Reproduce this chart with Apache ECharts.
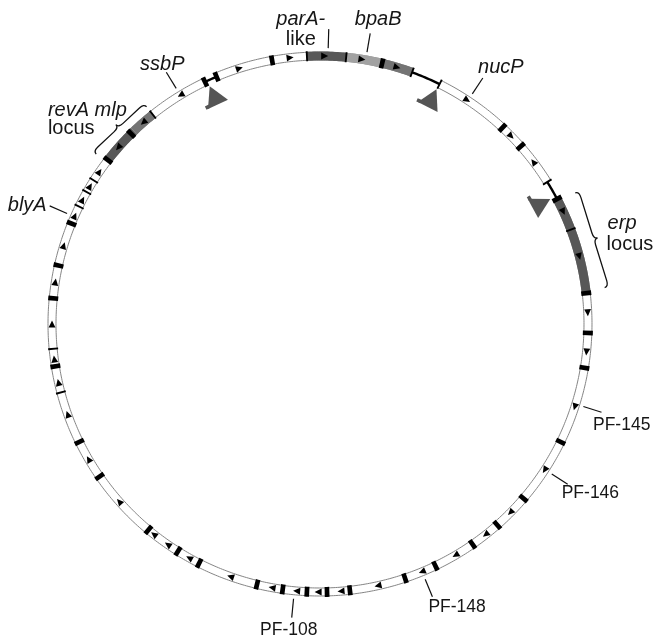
<!DOCTYPE html>
<html>
<head>
<meta charset="utf-8">
<script src="https://cdn.jsdelivr.net/npm/echarts@6/dist/echarts.min.js"></script>
<style>
html,body{margin:0;padding:0;background:#ffffff;}
#c{width:654px;height:642px;}
</style>
</head>
<body>
<div id="c"></div>
<script>
// ---- DATA (map positions in degrees, clockwise from the top of the plasmid) ----
const gapStart = [334.6, 20.1, 58.0];
const gapEnd   = [337.3, 26.5, 62.2];

const regionName  = ['parA-like', 'bpaB', 'bpaB flank', 'erp', 'revA', 'mlp'];
const regionStart = [357.2, 365.6, 372.9, 62.2, 307.7, 316.0];
const regionEnd   = [365.6, 372.9, 380.1, 83.4, 316.0, 321.4];
const regionTone  = ['dark', 'light', 'mid', 'dark', 'dark', 'mid'];

const boxAngles = [349.7, 13.4, 42.9, 48.5, 62.2, 83.4, 91.9, 99.4, 116.1, 130.6, 138.6, 145.3,
  154.5, 161.5, 173.6, 178.5, 182.8, 188.0, 193.6, 206.8, 212.0, 219.8, 235.3, 243.9, 260.9,
  275.5, 282.6, 292.0, 307.7, 315.2, 334.6, 337.3];
const tickAngles = [357.2, 5.6, 20.1, 26.5, 58.0, 69.4, 255.2, 264.7, 296.0, 299.5, 302.4, 321.4];

const arrowCW = [342.5, 353.6, 1.0, 9.0, 16.7, 33.3, 45.5, 65.2, 75.4, 87.6, 96.0, 108.0, 123.0,
  134.7, 141.8, 149.6, 157.6, 167.5, 175.5, 180.4, 185.0, 190.3, 199.5, 209.2, 214.6, 218.3,
  228.5, 239.7, 250.3, 257.4, 262.5, 270.0, 279.0, 287.0, 293.8, 297.6, 300.9, 304.6];
const arrowCCW = [52.8, 311.2, 318.8, 328.7];

const siteAngles = [335.1, 26.4, 61.5];

const labelText  = ['parA-\nlike', 'bpaB', 'nucP', 'PF-145', 'PF-146', 'PF-148', 'PF-108', 'blyA', 'ssbP'];
const labelAngle = [1.7, 9.8, 33.5, 107.4, 122.9, 157.6, 185.5, 293.6, 328.6];

const braceText = [['revA mlp', 'locus'], ['erp', 'locus']];
const braceFrom = [307.2, 62.8];
const braceTo   = [321.4, 82.7];

// ---- STYLE / LAYOUT ----
const R_OUT = 272, R_IN = 264, R_MID = 268;
const toneColor = { dark: '#585858', light: '#a2a2a2', mid: '#747474' };
const TEXT = '#161616';
const FONT = '"Liberation Sans", Arial, Helvetica, sans-serif';
const labelStyle = [
  { dx: -28, dy: 0, align: 'center', italic: [true, false], size: 20, lh: 20 },
  { dx: 8, dy: -14, align: 'center', italic: [true], size: 20 },
  { dx: 18, dy: -11, align: 'center', italic: [true], size: 20 },
  { dx: -8.5, dy: 13, align: 'left', italic: [false], size: 17.5 },
  { dx: -6, dy: 9, align: 'left', italic: [false], size: 17.5 },
  { dx: -4, dy: 10, align: 'left', italic: [false], size: 17.5 },
  { dx: -3, dy: 13, align: 'center', italic: [false], size: 17.5 },
  { dx: -3, dy: 0, align: 'right', italic: [true], size: 20 },
  { dx: -4, dy: -8, align: 'center', italic: [true], size: 20 }
];
const braceStyle = [
  { r0: 281, r1: 278, w: 4, lines: [{ dx: -68, dy: -14.5, italic: true }, { dx: -68, dy: 3.5, italic: false }] },
  { r0: 287, r1: 287, w: 4, lines: [{ dx: 10, dy: -14, italic: true }, { dx: 9, dy: 7, italic: false }] }
];

function norm(a) { return ((a % 360) + 360) % 360; }
function P(api, r, a) { return api.coord([r, norm(a)]); }
function arc(api, r, a0, a1) {
  const n = Math.max(2, Math.ceil(Math.abs(a1 - a0) / 0.5));
  const out = [];
  for (let i = 0; i <= n; i++) out.push(P(api, r, a0 + (a1 - a0) * i / n));
  return out;
}
function band(api, r0, r1, a0, a1) { return arc(api, r1, a0, a1).concat(arc(api, r0, a1, a0)); }

const gaps = gapStart.map((s, i) => [s, gapEnd[i]]).sort((a, b) => a[0] - b[0]);
const spans = gaps.map((g, i) => {
  const next = gaps[(i + 1) % gaps.length];
  let e = next[0];
  if (e <= g[1]) e += 360;
  return [g[1], e];
});

function mk(data, render) {
  return { type: 'custom', coordinateSystem: 'polar', silent: true, animation: false, clip: false,
    data: data.map((a, i) => [R_MID, norm(a), i]), renderItem: render };
}

const series = [];
// ring body
series.push(mk(spans.map(s => s[0]), (p, api) => {
  const s = spans[api.value(2)];
  return { type: 'group', children: [
    { type: 'polygon', shape: { points: band(api, R_IN, R_OUT, s[0], s[1]) }, style: { fill: '#ffffff' } },
    { type: 'polyline', shape: { points: arc(api, R_OUT, s[0], s[1]) }, style: { stroke: '#858585', lineWidth: 1, fill: 'none' } },
    { type: 'polyline', shape: { points: arc(api, R_IN, s[0], s[1]) }, style: { stroke: '#858585', lineWidth: 1, fill: 'none' } }
  ]};
}));
// gaps: plain black line
series.push(mk(gaps.map(g => g[0]), (p, api) => {
  const g = gaps[api.value(2)];
  return { type: 'polyline', shape: { points: arc(api, R_MID, g[0], g[1]) }, style: { stroke: '#000', lineWidth: 2.4, fill: 'none' } };
}));
// shaded loci
series.push(mk(regionStart, (p, api) => {
  const i = api.value(2);
  return { type: 'polygon', shape: { points: band(api, R_IN - 0.5, R_OUT + 0.5, regionStart[i], regionEnd[i]) },
    style: { fill: toneColor[regionTone[i]] } };
}));
// gene boundary boxes and ticks
series.push(mk(boxAngles, (p, api) => {
  const a = boxAngles[api.value(2)];
  return { type: 'polygon', shape: { points: band(api, R_IN - 1, R_OUT + 1, a - 0.5, a + 0.5) }, style: { fill: '#000' } };
}));
series.push(mk(tickAngles, (p, api) => {
  const a = tickAngles[api.value(2)];
  return { type: 'polygon', shape: { points: band(api, R_IN - 1, R_OUT + 1, a - 0.2, a + 0.2) }, style: { fill: '#000' } };
}));
// direction arrowheads
function tri(api, a, dir) {
  return { type: 'polygon', shape: { points: [P(api, R_MID, a + 0.75 * dir), P(api, R_IN + 0.6, a - 0.75 * dir), P(api, R_OUT - 0.6, a - 0.75 * dir)] },
    style: { fill: '#000' } };
}
series.push(mk(arrowCW, (p, api) => tri(api, arrowCW[api.value(2)], 1)));
series.push(mk(arrowCCW, (p, api) => tri(api, arrowCCW[api.value(2)], -1)));
// large grey arrows
series.push(mk(siteAngles, (p, api) => {
  const a = siteAngles[api.value(2)];
  return { type: 'group', children: [
    { type: 'polygon', shape: { points: [P(api, 262, a), P(api, 242.5, a - 2.6), P(api, 242.5, a + 2.6)] }, style: { fill: '#555555' } },
    { type: 'polygon', shape: { points: band(api, 242.5, 246, a - 3.0, a - 2.0) }, style: { fill: '#555555' } }
  ]};
}));
// labels with leader lines
series.push(mk(labelAngle, (p, api) => {
  const i = api.value(2);
  const a = labelAngle[i], st = labelStyle[i];
  const p0 = P(api, 276, a), p1 = P(api, 295, a);
  const lines = labelText[i].split('\n');
  const lh = st.lh || 20;
  const kids = [{ type: 'line', shape: { x1: p0[0], y1: p0[1], x2: p1[0], y2: p1[1] }, style: { stroke: '#111', lineWidth: 1.2 } }];
  lines.forEach((t, k) => {
    const y = p1[1] + st.dy + (k - (lines.length - 1) / 2) * lh;
    kids.push({ type: 'text', x: p1[0] + st.dx, y: y, style: { text: t, fill: TEXT,
      font: (st.italic[k] ? 'italic ' : '') + st.size + 'px ' + FONT, align: st.align, verticalAlign: 'middle' } });
  });
  return { type: 'group', children: kids };
}));
// braces
series.push(mk(braceFrom, (p, api) => {
  const i = api.value(2), st = braceStyle[i];
  const A = P(api, st.r0, braceFrom[i]), B = P(api, st.r1, braceTo[i]);
  const C = api.coord([0, 0]);
  const L = Math.hypot(B[0] - A[0], B[1] - A[1]);
  const d = [(B[0] - A[0]) / L, (B[1] - A[1]) / L];
  const M = [(A[0] + B[0]) / 2, (A[1] + B[1]) / 2];
  let n = [-d[1], d[0]];
  if ((M[0] - C[0]) * n[0] + (M[1] - C[1]) * n[1] < 0) n = [-n[0], -n[1]];
  const w = st.w, q = 6;
  const pt = (base, s, t) => [base[0] + d[0] * s + n[0] * t, base[1] + d[1] * s + n[1] * t];
  const f = v => v[0].toFixed(2) + ' ' + v[1].toFixed(2);
  const tip = pt(M, 0, 2 * w);
  const path = 'M ' + f(A) +
    ' Q ' + f(pt(A, 0, w)) + ' ' + f(pt(A, q, w)) +
    ' L ' + f(pt(M, -q, w)) +
    ' Q ' + f(pt(M, 0, w)) + ' ' + f(tip) +
    ' Q ' + f(pt(M, 0, w)) + ' ' + f(pt(M, q, w)) +
    ' L ' + f(pt(B, -q, w)) +
    ' Q ' + f(pt(B, 0, w)) + ' ' + f(B);
  const kids = [{ type: 'path', shape: { pathData: path }, style: { stroke: '#111', lineWidth: 1.3, fill: 'none' } }];
  braceText[i].forEach((t, k) => {
    const ls = st.lines[k];
    kids.push({ type: 'text', x: tip[0] + ls.dx, y: tip[1] + ls.dy, style: { text: t, fill: TEXT,
      font: (ls.italic ? 'italic ' : '') + '20px ' + FONT, align: 'left', verticalAlign: 'middle' } });
  });
  return { type: 'group', children: kids };
}));

const chart = echarts.init(document.getElementById('c'));
chart.setOption({
  backgroundColor: '#ffffff',
  animation: false,
  polar: { center: [320, 324], radius: 300 },
  angleAxis: { type: 'value', min: 0, max: 360, startAngle: 90, clockwise: true, show: false },
  radiusAxis: { type: 'value', min: 0, max: 300, show: false },
  series: series
});
</script>
</body>
</html>
